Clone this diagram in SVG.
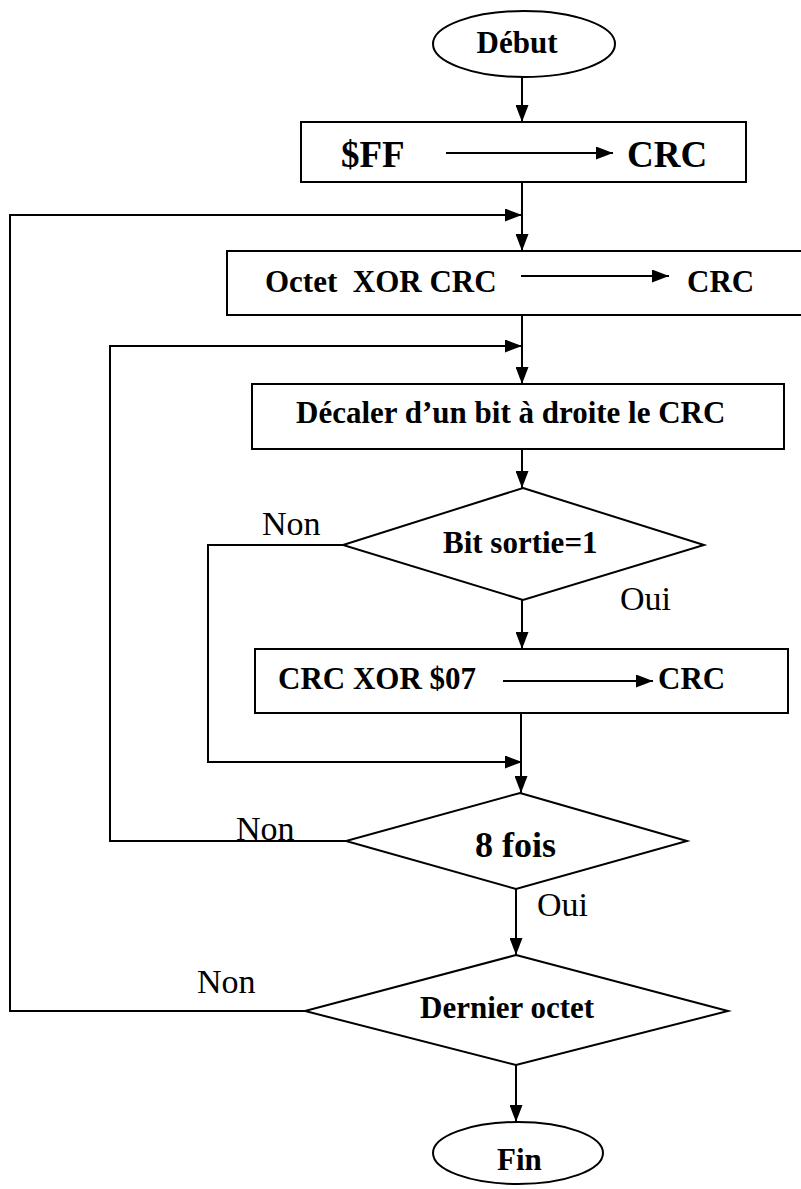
<svg xmlns="http://www.w3.org/2000/svg" width="801" height="1189" viewBox="0 0 801 1189">
<style>
.sh{fill:#fff;stroke:#000;stroke-width:2}
.ln{fill:none;stroke:#000;stroke-width:2}
.b{font-family:"Liberation Serif","Times New Roman",serif;font-weight:bold;fill:#000}
.r{font-family:"Liberation Serif","Times New Roman",serif;font-weight:normal;fill:#000;font-size:34px}
</style>
<defs>
<marker id="ah" markerUnits="userSpaceOnUse" markerWidth="17" markerHeight="13" refX="17" refY="6.5" orient="auto">
<path d="M0,0 L17,6.5 L0,13 z" fill="#000"/>
</marker>
</defs>
<rect width="801" height="1189" fill="#fff"/>
<g id="connectors">
<line class="ln" x1="522" y1="77" x2="522" y2="122" marker-end="url(#ah)"/>
<line class="ln" x1="522" y1="182" x2="522" y2="251" marker-end="url(#ah)"/>
<polyline class="ln" points="305,1011 10,1011 10,215 522,215" marker-end="url(#ah)"/>
<line class="ln" x1="522" y1="315" x2="522" y2="384" marker-end="url(#ah)"/>
<polyline class="ln" points="346,841 110,841 110,346 522,346" marker-end="url(#ah)"/>
<line class="ln" x1="522" y1="449" x2="522" y2="488" marker-end="url(#ah)"/>
<line class="ln" x1="522" y1="600" x2="522" y2="649" marker-end="url(#ah)"/>
<polyline class="ln" points="343,545 208,545 208,762 522,762" marker-end="url(#ah)"/>
<line class="ln" x1="521" y1="713" x2="521" y2="793" marker-end="url(#ah)"/>
<line class="ln" x1="516" y1="889" x2="516" y2="955" marker-end="url(#ah)"/>
<line class="ln" x1="516" y1="1065" x2="516" y2="1122" marker-end="url(#ah)"/>
</g>
<g id="debut">
<ellipse class="sh" cx="524" cy="44" rx="91" ry="33"/>
<text class="b" x="517" y="53" font-size="31" text-anchor="middle">Début</text>
</g>
<g id="init">
<rect class="sh" x="301" y="122" width="445" height="60"/>
<text class="b" x="341" y="167" font-size="37">$FF</text>
<line class="ln" x1="446" y1="153" x2="613" y2="153" marker-end="url(#ah)"/>
<text class="b" x="627" y="167" font-size="37">CRC</text>
</g>
<g id="xor-octet">
<rect class="sh" x="227" y="251" width="590" height="64"/>
<text class="b" x="265" y="292" font-size="31" xml:space="preserve" style="white-space:pre">Octet  XOR CRC</text>
<line class="ln" x1="521" y1="276" x2="669" y2="276" marker-end="url(#ah)"/>
<text class="b" x="687" y="292" font-size="31">CRC</text>
</g>
<g id="decaler">
<rect class="sh" x="252" y="384" width="532" height="65"/>
<text class="b" x="296" y="423" font-size="31">Décaler d’un bit à droite le CRC</text>
</g>
<g id="bit-sortie">
<polygon class="sh" points="523,488 704,545 523,600 343,545"/>
<text class="b" x="443" y="553" font-size="31">Bit sortie=1</text>
<text class="r" x="262" y="535">Non</text>
<text class="r" x="620" y="610">Oui</text>
</g>
<g id="xor-07">
<rect class="sh" x="255" y="649" width="533" height="64"/>
<text class="b" x="278" y="689" font-size="31">CRC XOR $07</text>
<line class="ln" x1="503" y1="681" x2="653" y2="681" marker-end="url(#ah)"/>
<text class="b" x="658" y="689" font-size="31">CRC</text>
</g>
<g id="huit-fois">
<polygon class="sh" points="520,793 687,841 516,889 346,841"/>
<text class="b" x="475" y="857" font-size="36">8 fois</text>
<text class="r" x="236" y="840">Non</text>
<text class="r" x="537" y="916">Oui</text>
</g>
<g id="dernier">
<polygon class="sh" points="516,955 728,1011 516,1065 305,1011"/>
<text class="b" x="420" y="1018" font-size="31">Dernier octet</text>
<text class="r" x="197" y="993">Non</text>
</g>
<g id="fin">
<ellipse class="sh" cx="518" cy="1153" rx="85" ry="31"/>
<text class="b" x="497" y="1170" font-size="31">Fin</text>
</g>
</svg>
